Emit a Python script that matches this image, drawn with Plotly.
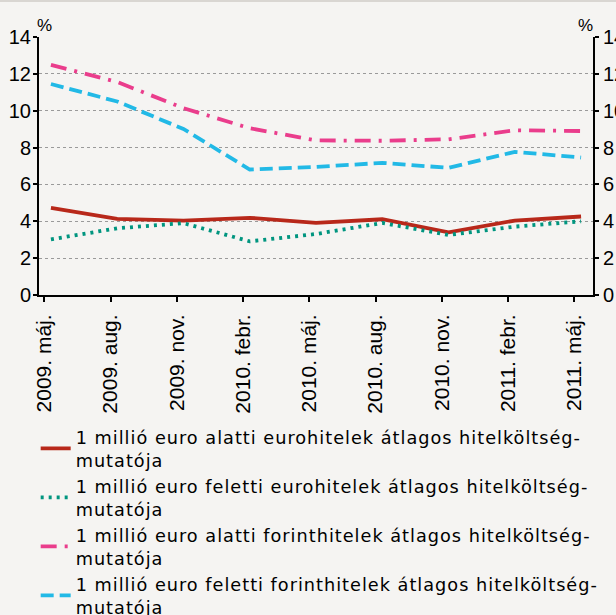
import plotly.graph_objects as go

categories = ["2009. máj.", "2009. aug.", "2009. nov.", "2010. febr.", "2010. máj.",
              "2010. aug.", "2010. nov.", "2011. febr.", "2011. máj."]
eur_small = [4.73, 4.13, 4.04, 4.19, 3.91, 4.11, 3.40, 4.04, 4.26]
eur_large = [3.02, 3.62, 3.90, 2.91, 3.31, 3.91, 3.26, 3.71, 4.00]
huf_small = [12.49, 11.56, 10.14, 9.05, 8.39, 8.37, 8.45, 8.94, 8.90]
huf_large = [11.45, 10.50, 9.01, 6.81, 6.95, 7.17, 6.90, 7.77, 7.46]
names = [
    "1 millió euro alatti eurohitelek átlagos hitelköltség-<br>mutatója",
    "1 millió euro feletti eurohitelek átlagos hitelköltség-<br>mutatója",
    "1 millió euro alatti forinthitelek átlagos hitelköltség-<br>mutatója",
    "1 millió euro feletti forinthitelek átlagos hitelköltség-<br>mutatója",
]
yticks = [0, 2, 4, 6, 8, 10, 12, 14]

xs = list(range(len(categories)))
fig = go.Figure()
styles = [
    ("#b8281a", "solid"),
    ("#00957f", "3px,5px"),
    ("#ea3d8c", "16px,8px,3px,8px"),
    ("#22b9e6", "13px,6px"),
]
def spaced(t):
    return "<br>".join('<span style="letter-spacing:1px">%s</span>' % p for p in t.split("<br>"))

for vals, name, (col, dash) in zip([eur_small, eur_large, huf_small, huf_large], names, styles):
    fig.add_trace(go.Scatter(x=xs, y=vals, name=spaced(name), mode="lines",
                             line=dict(color=col, width=3.8, dash=dash)))
# invisible trace for right axis
fig.add_trace(go.Scatter(x=[xs[0]], y=[0], yaxis="y2", showlegend=False,
                         mode="markers", marker=dict(opacity=0), hoverinfo="skip"))

bg = "#f5f4f2"
tickfam = "Liberation Sans"
fig.update_layout(
    width=616, height=615,
    paper_bgcolor=bg, plot_bgcolor=bg,
    margin=dict(l=39, r=23, t=37, b=320, autoexpand=False),
    font=dict(family=tickfam, size=19, color="#000"),
    xaxis=dict(range=[-0.18, 8.18], tickmode="array",
               tickvals=[i - 0.1 for i in xs], ticktext=categories,
               tickangle=-90, ticks="outside", ticklen=5, tickwidth=2, tickcolor="#000",
               showline=True, linecolor="#000", linewidth=2, showgrid=False,
               zeroline=False, tickfont=dict(family=tickfam, size=21, color="#000"),
               ticklabelstandoff=4),
    yaxis=dict(range=[0, 14], tickvals=yticks, ticks="outside", ticklen=4, tickwidth=2,
               tickcolor="#000", showline=True, linecolor="#000", linewidth=2,
               showgrid=True, gridcolor="#9a9a9a", griddash="dot", gridwidth=1,
               zeroline=False, tickfont=dict(family=tickfam, size=20, color="#000"),
               ticklabelstandoff=-2),
    yaxis2=dict(range=[0, 14], tickvals=yticks, overlaying="y", side="right",
                ticks="outside", ticklen=4, tickwidth=2, tickcolor="#000",
                showline=True, linecolor="#000", linewidth=2, showgrid=False,
                zeroline=False, tickfont=dict(family=tickfam, size=20, color="#000"),
                ticklabelstandoff=0),
    legend=dict(x=-0.006, y=-0.48, xanchor="left", yanchor="top",
                font=dict(family="DejaVu Sans", size=17.7), bgcolor="rgba(0,0,0,0)",
                tracegroupgap=0, itemwidth=30),
    showlegend=True,
    annotations=[
        dict(text="%", xref="paper", yref="paper", x=0.0, y=1.0, xanchor="left",
             yanchor="bottom", showarrow=False, font=dict(size=17), xshift=-4),
        dict(text="%", xref="paper", yref="paper", x=1.0, y=1.0, xanchor="right",
             yanchor="bottom", showarrow=False, font=dict(size=17), xshift=2),
    ],
    shapes=[dict(type="rect", xref="paper", yref="paper", x0=-0.1, x1=1.1,
                 y0=1.1357, y1=1.2, fillcolor="#d9d6d2", line=dict(width=0), layer="below")],
)
fig.write_html("out.html", config={"displayModeBar": False},
               post_script="document.body.style.margin='0';document.body.style.background='#f5f4f2';document.body.style.overflow='hidden';")
